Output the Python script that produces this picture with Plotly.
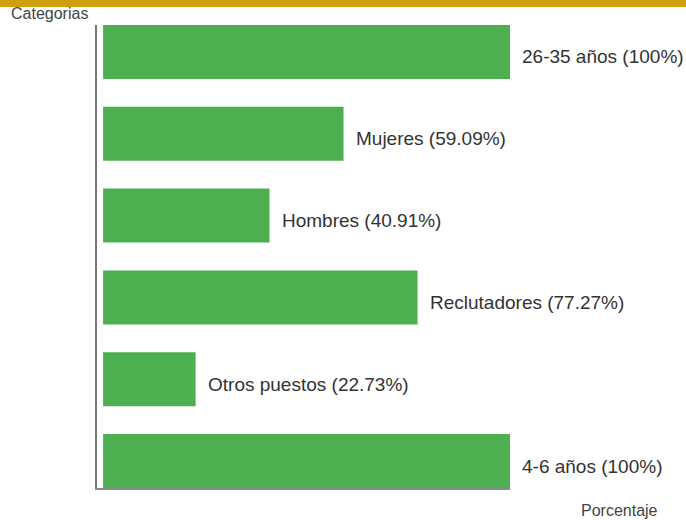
import plotly.graph_objects as go

categories = ["26-35 años", "Mujeres", "Hombres", "Reclutadores", "Otros puestos", "4-6 años"]
values = [100, 59.09, 40.91, 77.27, 22.73, 100]
value_labels = ["100%", "59.09%", "40.91%", "77.27%", "22.73%", "100%"]

W, H = 686, 520
L, R, T, B = 97, 176, 25, 32
PW, PH = W - L - R, H - T - B

def px_x(p):
    return (p - L) / PW

def px_y(p):
    return (H - B - p) / PH

positions = list(range(len(categories)))
FONT = "Arial, 'Liberation Sans', sans-serif"

fig = go.Figure()
fig.add_trace(go.Bar(
    x=values, y=positions, orientation="h",
    width=0.66,
    marker=dict(color="#4CAF50", line=dict(width=0)),
    hovertext=categories, hoverinfo="text+x",
    showlegend=False,
))

annotations = []
for pos, cat, v, lab in zip(positions, categories, values, value_labels):
    annotations.append(dict(
        x=v, y=pos, xref="x", yref="y",
        text=f"{cat} ({lab})", showarrow=False,
        xanchor="left", yanchor="middle", xshift=10, yshift=-5,
        font=dict(family=FONT, size=19, color="#333333"),
    ))

annotations.append(dict(
    x=px_x(9), y=px_y(14), xref="paper", yref="paper",
    text="Categorias", showarrow=False, xanchor="left", yanchor="middle",
    font=dict(family=FONT, size=16, color="#444444"),
))
annotations.append(dict(
    x=px_x(579), y=px_y(510), xref="paper", yref="paper",
    text="Porcentaje", showarrow=False, xanchor="left", yanchor="middle",
    font=dict(family=FONT, size=16, color="#444444"),
))

shapes = [dict(
    type="rect", xref="paper", yref="paper",
    x0=px_x(0), x1=px_x(W), y0=px_y(7), y1=px_y(0),
    fillcolor="#CFA00E", line=dict(width=0), layer="above",
)]

fig.update_layout(
    width=W, height=H,
    margin=dict(l=L, r=R, t=T, b=B, pad=0),
    paper_bgcolor="white", plot_bgcolor="white",
    annotations=annotations, shapes=shapes,
    bargap=0.34,
    xaxis=dict(range=[-1.5, 100], showticklabels=False, showgrid=False,
               zeroline=False, showline=True, linecolor="#8a8a8a", linewidth=2,
               ticks=""),
    yaxis=dict(range=[5.33, -0.33], showticklabels=False, showgrid=False,
               zeroline=False, showline=True, linecolor="#777777", linewidth=2,
               ticks=""),
)

fig.write_html("out.html", config={"displayModeBar": False},
               post_script="document.body.style.margin='0';document.body.style.padding='0';")
